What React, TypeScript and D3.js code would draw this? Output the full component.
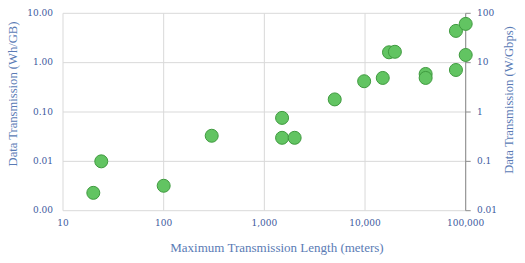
import React from "react";
import * as d3 from "d3";

const xValues = [20, 24, 100, 300, 1500, 1500, 2000, 5000, 9800, 15000, 17300, 19800, 40000, 40000, 80000, 80000, 100000, 100000];
const yValues = [0.0023, 0.01, 0.0032, 0.033, 0.076, 0.03, 0.03, 0.18, 0.42, 0.49, 1.62, 1.66, 0.59, 0.49, 0.71, 4.4, 6.1, 1.43];
const xTicks = [10, 100, 1000, 10000, 100000];
const yTicksLeft = [0.001, 0.01, 0.1, 1, 10];
const yTicksRight = [0.01, 0.1, 1, 10, 100];
const xTitle = "Maximum Transmission Length (meters)";
const yTitleLeft = "Data Transmission (Wh/GB)";
const yTitleRight = "Data Transmission (W/Gbps)";

const W = 525, H = 263;
const L = 63, R = 465.7, T = 13.3, B = 210.7;
const tickColor = "#3D5A9E";
const titleColor = "#5A7BB5";
const font = "'Liberation Serif', serif";
const tickFont = "'DejaVu Serif', serif";

export default function App() {
  const x = d3.scaleLog().domain([10, 100000]).range([L, R]);
  const yL = d3.scaleLog().domain([0.001, 10]).range([B, T]);
  const yR = d3.scaleLog().domain([0.01, 100]).range([B, T]);
  const fmtX = d3.format(",");
  return (
    <svg width={W} height={H} style={{ position: "absolute", left: 0, top: 0 }}>
      {xTicks.map((t) => (
        <line key={"gx" + t} x1={x(t)} x2={x(t)} y1={T} y2={B} stroke="#D9D9D9" strokeWidth={1} />
      ))}
      {yTicksLeft.map((t) => (
        <line key={"gy" + t} x1={L} x2={R} y1={yL(t)} y2={yL(t)} stroke="#D9D9D9" strokeWidth={1} />
      ))}
      <line x1={R} x2={R} y1={T} y2={B} stroke="#8C8C8C" strokeWidth={1} />
      {yTicksRight.map((t) => (
        <line key={"rt" + t} x1={R} x2={R + 5} y1={yR(t)} y2={yR(t)} stroke="#8C8C8C" strokeWidth={1} />
      ))}
      {yTicksLeft.map((t) => (
        <text key={"yl" + t} x={53} y={yL(t)} dy="0.3em" textAnchor="end" fontFamily={tickFont} fontSize={9} fill={tickColor}>
          {t.toFixed(2)}
        </text>
      ))}
      {yTicksRight.map((t) => (
        <text key={"yr" + t} x={477} y={yR(t)} dy="0.3em" textAnchor="start" fontFamily={tickFont} fontSize={9} fill={tickColor}>
          {String(t)}
        </text>
      ))}
      {xTicks.map((t) => (
        <text key={"xl" + t} x={x(t)} y={226} textAnchor="middle" fontFamily={tickFont} fontSize={9} fill={tickColor}>
          {fmtX(t)}
        </text>
      ))}
      <text x={277} y={252} textAnchor="middle" fontFamily={font} fontSize={13} fill={titleColor}>
        {xTitle}
      </text>
      <text transform={`translate(17,94) rotate(-90)`} textAnchor="middle" fontFamily={font} fontSize={12.6} fill={titleColor}>
        {yTitleLeft}
      </text>
      <text transform={`translate(513,100) rotate(-90)`} textAnchor="middle" fontFamily={font} fontSize={12.6} fill={titleColor}>
        {yTitleRight}
      </text>
      {xValues.map((v, i) => (
        <circle key={"p" + i} cx={x(v)} cy={yL(yValues[i])} r={6.5} fill="#62C462" stroke="#3F9A3F" strokeWidth={1} />
      ))}
    </svg>
  );
}
